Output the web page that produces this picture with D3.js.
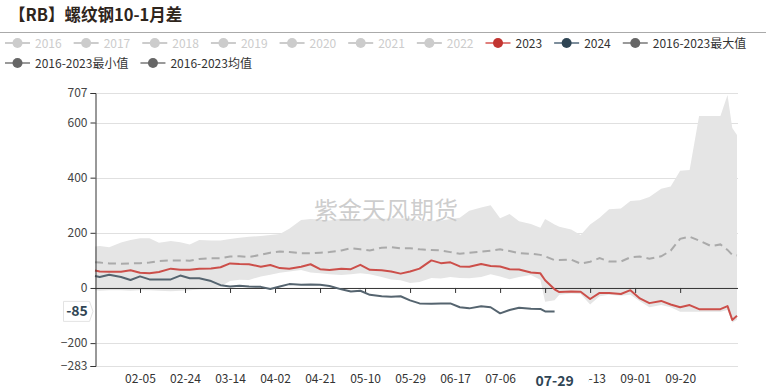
<!DOCTYPE html>
<html><head><meta charset="utf-8">
<script src="https://cdn.jsdelivr.net/npm/d3@7"></script>
<style>
body{margin:0;background:#fff}
svg{display:block}
text{font-family:"Noto Sans CJK SC","Noto Sans",sans-serif}
</style>
</head><body>
<svg id="c" width="766" height="391"></svg>
<script>
// ---------- data ----------
const dates = ["01-17","01-19","01-23","01-28","02-01","02-05","02-09","02-13","02-18","02-22",
"02-26","03-01","03-06","03-10","03-14","03-18","03-22","03-27","03-31","04-04",
"04-08","04-13","04-17","04-21","04-25","04-30","05-04","05-08","05-12","05-17",
"05-21","05-25","05-29","06-02","06-07","06-11","06-15","06-19","06-23","06-28",
"07-02","07-06","07-10","07-14","07-19","07-23","07-25","07-29","07-31","08-05",
"08-09","08-13","08-17","08-21","08-26","08-30","09-03","09-07","09-12","09-16",
"09-20","09-24","09-28","10-03","10-07","10-10","10-12","10-14"];

const s2023 = [63,60,59,59,64,55,53,58,70,66,
66,70,71,75,89,87,86,77,83,72,
70,77,86,68,65,70,68,84,66,64,
60,52,60,70,100,90,93,78,77,87,
80,78,68,67,56,53,28,-5,-15,-13,
-14,-40,-18,-18,-22,-8,-38,-55,-47,-60,
-70,-62,-77,-77,-77,-66,-116,-101];

const s2024 = [43,40,48,40,29,42,31,31,31,45,
35,35,25,10,5,8,5,4,-4,5,
14,12,13,12,7,-5,-13,-10,-25,-30,
-32,-30,-45,-56,-57,-56,-56,-70,-74,-66,
-70,-92,-80,-72,-75,-76,-85,-85];

const sMean = [93,92,89,88,89,90,92,98,100,100,
99,105,108,108,114,115,112,120,128,132,
130,126,126,128,130,136,144,140,136,146,
148,144,144,140,138,136,130,124,128,132,
135,140,134,126,124,120,115,101,101,103,
88,95,108,96,96,111,114,106,115,135,
178,186,172,152,158,138,120,118];

const sMax = [150,152,148,165,174,180,180,164,170,166,
158,174,172,172,178,182,186,188,192,196,
215,246,250,248,245,252,250,250,252,250,
253,252,253,245,244,245,250,255,280,292,
300,253,268,242,232,218,250,230,222,212,
192,230,255,285,288,315,318,330,360,368,
425,428,624,624,624,700,580,555];

const sMin = [-8,-10,-8,-8,-10,-8,-8,-10,-12,-10,
-8,-6,-5,5,25,30,29,42,48,55,
60,65,56,53,50,47,50,53,50,40,
31,28,18,22,36,34,40,36,35,40,
50,42,32,40,47,30,-50,-45,-25,-20,
-22,-60,-30,-25,-28,-25,-48,-70,-62,-70,
-86,-86,-86,-86,-86,-80,-125,-115];

const xTicks = ["02-05","02-24","03-14","04-02","04-21","05-10","05-29","06-17","07-06","07-25","08-13","09-01","09-20"];
// label at 07-25 is hidden behind the axis-pointer label in the reference
const xTickLabels = ["02-05","02-24","03-14","04-02","04-21","05-10","05-29","06-17","07-06","08-13","09-01","09-20"];
const yTicks = [707,600,400,200,0,-200,-283];
const xStart = "01-17", xEnd = "10-14";
const pointerDate = "07-29";
const pointerValue = -85;

const title = "【RB】螺纹钢10-1月差";
const watermark = "紫金天风期货";
const legendItems = [
  {name:"2016", active:false}, {name:"2017", active:false}, {name:"2018", active:false},
  {name:"2019", active:false}, {name:"2020", active:false}, {name:"2021", active:false},
  {name:"2022", active:false},
  {name:"2023", active:true, line:"#e0807d", dot:"#c23531"},
  {name:"2024", active:true, line:"#7d8e9c", dot:"#2f4554"},
  {name:"2016-2023最大值", active:true, line:"#9a9a9a", dot:"#666666"},
  {name:"2016-2023最小值", active:true, line:"#9a9a9a", dot:"#666666"},
  {name:"2016-2023均值", active:true, line:"#9a9a9a", dot:"#666666"}
];

// ---------- drawing ----------
const parse = s => d3.timeParse("%Y-%m-%d")("2024-" + s);
const svg = d3.select("#c");
const W = 766;
const FONT = "'Noto Sans CJK SC','Noto Sans',sans-serif";

const x = d3.scaleTime().domain([parse(xStart), parse(xEnd)]).range([95, 737]);
const y = d3.scaleLinear().domain([-283, 707]).range([366, 93]);

// title
svg.append("text").attr("x", 9).attr("y", 21).text(title)
  .attr("font-size", 16.5).attr("font-weight", "bold").attr("fill", "#2e251c");
svg.append("line").attr("x1", 0).attr("x2", W).attr("y1", 32.5).attr("y2", 32.5)
  .attr("stroke", "#aaa").attr("stroke-width", 1);

// legend
let lx = 5, ly = 43;
legendItems.forEach(it => {
  const g = svg.append("g");
  const t = g.append("text").attr("x", 30).attr("y", 4.5).text(it.name)
    .attr("font-size", 12).attr("fill", it.active ? "#333" : "#ccc");
  const w = 30 + t.node().getComputedTextLength();
  if (lx + w > W - 8) { lx = 5; ly += 20; }
  g.attr("transform", `translate(${lx},${ly})`);
  g.insert("line", "text").attr("x1", 0).attr("x2", 25).attr("y1", 0).attr("y2", 0)
    .attr("stroke", it.active ? it.line : "#ccc").attr("stroke-width", 2);
  g.insert("circle", "text").attr("cx", 12.5).attr("cy", 0).attr("r", 5)
    .attr("fill", it.active ? it.dot : "#ccc");
  lx += w + 12;
});

// grid
svg.append("g").selectAll("line").data(yTicks.filter(v => v !== 0)).join("line")
  .attr("x1", 95).attr("x2", 738).attr("y1", d => Math.round(y(d)) + 0.5).attr("y2", d => Math.round(y(d)) + 0.5)
  .attr("stroke", "#e0e0e0").attr("stroke-width", 1);

// band (min..max)
const pts = dates.map((d, i) => ({date: parse(d), i}));
const band = d3.area().x(d => x(d.date)).y0(d => y(sMin[d.i])).y1(d => y(sMax[d.i]));
svg.append("path").datum(pts).attr("d", band).attr("fill", "#e5e5e5");

// watermark
svg.append("text").attr("x", 386).attr("y", 219).attr("text-anchor", "middle")
  .attr("font-size", 24).attr("fill", "#c4c4c4").attr("fill-opacity", 0.85).text(watermark);

// mean dashed
const lineOf = arr => d3.line().defined(d => arr[d.i] != null).x(d => x(d.date)).y(d => y(arr[d.i]));
svg.append("path").datum(pts).attr("d", lineOf(sMean)).attr("fill", "none")
  .attr("stroke", "#aaaaaa").attr("stroke-width", 2).attr("stroke-dasharray", "8,5");

// zero axis with ticks
const xAxisZero = d3.axisBottom(x).tickValues(xTicks.map(parse)).tickSize(5).tickFormat("");
const gz = svg.append("g").attr("transform", `translate(0,${y(0)})`).call(xAxisZero);
gz.select(".domain").attr("stroke", "#333").attr("d", `M95,0.5H738`);
gz.selectAll(".tick line").attr("stroke", "#333");

// 2023
svg.append("path").datum(pts).attr("d", lineOf(s2023)).attr("fill", "none")
  .attr("stroke", "#cc4f4a").attr("stroke-width", 2).attr("stroke-linejoin", "round");
// 2024
svg.append("path").datum(pts.slice(0, s2024.length)).attr("d", lineOf(s2024)).attr("fill", "none")
  .attr("stroke", "#55646f").attr("stroke-width", 2).attr("stroke-linejoin", "round");

// y axis
const yAxis = d3.axisLeft(y).tickValues(yTicks).tickSize(5).tickPadding(3);
const gy = svg.append("g").attr("transform", "translate(95.5,0)").call(yAxis);
gy.select(".domain").attr("stroke", "#333");
gy.selectAll(".tick line").attr("stroke", "#333");
gy.selectAll(".tick text").attr("font-size", 12).attr("fill", "#444").attr("font-family", FONT);

// bottom x labels
const xAxisB = d3.axisBottom(x).tickValues(xTickLabels.map(parse)).tickSize(0).tickPadding(0)
  .tickFormat(d3.timeFormat("%m-%d"));
const gb = svg.append("g").attr("transform", "translate(0,374)").call(xAxisB);
gb.select(".domain").remove();
gb.selectAll(".tick text").attr("font-size", 12).attr("fill", "#333").attr("font-family", FONT);

// axis pointer label (x)
const px = x(parse(pointerDate));
svg.append("rect").attr("x", px - 24).attr("y", 370).attr("width", 58).attr("height", 20).attr("fill", "#fff");
svg.append("text").attr("x", px).attr("y", 386).attr("text-anchor", "middle")
  .attr("font-size", 14).attr("font-weight", "bold").attr("fill", "#2f4554").text(pointerDate);

// axis pointer label (y)
const py = y(pointerValue);
svg.append("path").attr("d", `M63.5,${py - 10}H89.5L93,${py}L89.5,${py + 10}H63.5Z`)
  .attr("fill", "#fff").attr("stroke", "#e3e3e3");
svg.append("text").attr("x", 77).attr("y", py + 5).attr("text-anchor", "middle")
  .attr("font-size", 14).attr("font-weight", "bold").attr("fill", "#2f4554").text(pointerValue);
</script>
</body></html>
